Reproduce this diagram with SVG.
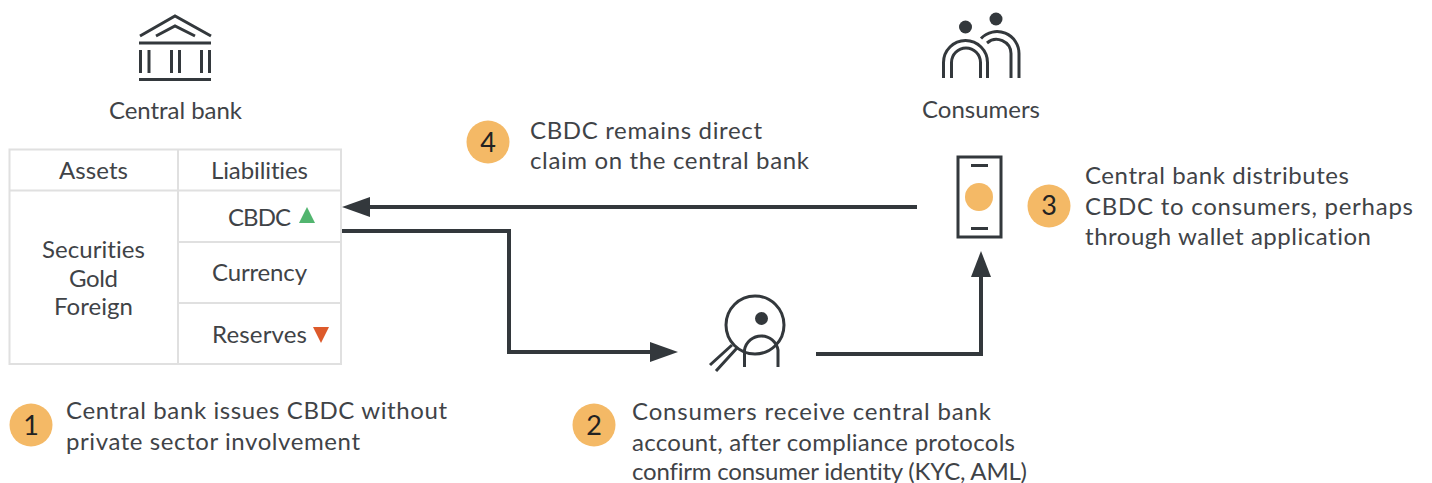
<svg xmlns="http://www.w3.org/2000/svg" width="1432" height="483" viewBox="0 0 1432 483">
<style>
text{font-family:"Lato","Open Sans","Liberation Sans",sans-serif;font-size:24px;fill:#3f4347;font-variant-ligatures:none}
.ic{fill:none;stroke:#33383c;stroke-width:3}
.grid{fill:none;stroke:#e0e0e0;stroke-width:2}
.badge{fill:#f4b966}
.num{text-anchor:middle;font-size:27px;fill:#222}
.conn{fill:none;stroke:#33383c;stroke-width:4}
.ah{fill:#33383c}
</style>
<rect width="1432" height="483" fill="#fff"/>
<g id="central-bank">
<path class="ic" d="M140 36L175 16L211 36M156 36L175 26L195 36M139 43H211M139 79.500H211M140.500 50V73M149 50V73M171.500 50V73M179.500 50V73M201.500 50V73M209.500 50V73"/>
<text x="109" y="119" textLength="133">Central bank</text>
</g>
<g id="balance-sheet">
<path class="grid" d="M9.500 149.500H341V364H9.500ZM9.500 190.500H341M178 149.500V364M178 242H341M178 303H341"/>
<text x="59" y="179" textLength="69">Assets</text>
<text x="211" y="179" textLength="97">Liabilities</text>
<text x="42" y="258" textLength="103">Securities</text>
<text x="69" y="287" textLength="49">Gold</text>
<text x="54" y="315" textLength="79">Foreign</text>
<text x="228" y="226" textLength="63">CBDC</text>
<path d="M299 223L307 207L315 223Z" fill="#52b56f"/>
<text x="212" y="281" textLength="95">Currency</text>
<text x="212" y="343" textLength="95">Reserves</text>
<path d="M313 327H329L321 343Z" fill="#dd5a2b"/>
</g>
<g id="consumers">
<circle cx="965.500" cy="27" r="6.500" fill="#33383c"/>
<circle cx="996" cy="19" r="6.500" fill="#33383c"/>
<path class="ic" d="M943.500 78V62.500A22 22 0 0 1 987.500 62.500V78M951.500 78V62.500A14.500 14.500 0 0 1 980.500 62.500V78"/>
<path class="ic" d="M981 38.500A22 22 0 0 1 1019 54V78M987 43A14.500 14.500 0 0 1 1011 53.500V78"/>
<text x="922" y="118" textLength="118">Consumers</text>
</g>
<g id="wallet">
<rect class="ic" x="958" y="157" width="43" height="80"/>
<path class="ic" d="M971 165.500H988M971 228.500H988"/>
<circle cx="979" cy="197" r="14" fill="#f4b966"/>
</g>
<g id="compliance">
<circle cx="755" cy="325" r="29" class="ic"/>
<circle cx="761.500" cy="318.500" r="6.500" fill="#33383c"/>
<path class="ic" d="M744.500 367V350A17 17 0 0 1 778 350V367M732 345L710 365M737 348L716 371"/>
</g>
<g id="connectors">
<path class="conn" d="M917 207H364"/><path class="ah" d="M342 207L370 197V217Z"/>
<path class="conn" d="M342 231H509V352H655"/><path class="ah" d="M678 352L650 342V362Z"/>
<path class="conn" d="M816 354H981V276"/><path class="ah" d="M981 251L971 277H991Z"/>
</g>
<g id="step-1"><circle class="badge" cx="31" cy="425" r="21.500"/><text class="num" x="31" y="435">1</text>
<text x="66" y="419" textLength="381">Central bank issues CBDC without</text><text x="66" y="450" textLength="294">private sector involvement</text></g>
<g id="step-2"><circle class="badge" cx="594" cy="425" r="21.500"/><text class="num" x="594" y="435">2</text>
<text x="632" y="420" textLength="359">Consumers receive central bank</text><text x="632" y="451" textLength="383">account, after compliance protocols</text><text x="632" y="480" textLength="395">confirm consumer identity (KYC, AML)</text></g>
<g id="step-3"><circle class="badge" cx="1049" cy="206" r="21.500"/><text class="num" x="1049" y="215">3</text>
<text x="1085" y="184" textLength="264">Central bank distributes</text><text x="1085" y="215" textLength="328">CBDC to consumers, perhaps</text><text x="1085" y="245" textLength="286">through wallet application</text></g>
<g id="step-4"><circle class="badge" cx="488" cy="142" r="21.500"/><text class="num" x="488" y="152">4</text>
<text x="530" y="139" textLength="232">CBDC remains direct</text><text x="530" y="169" textLength="279">claim on the central bank</text></g>
</svg>
